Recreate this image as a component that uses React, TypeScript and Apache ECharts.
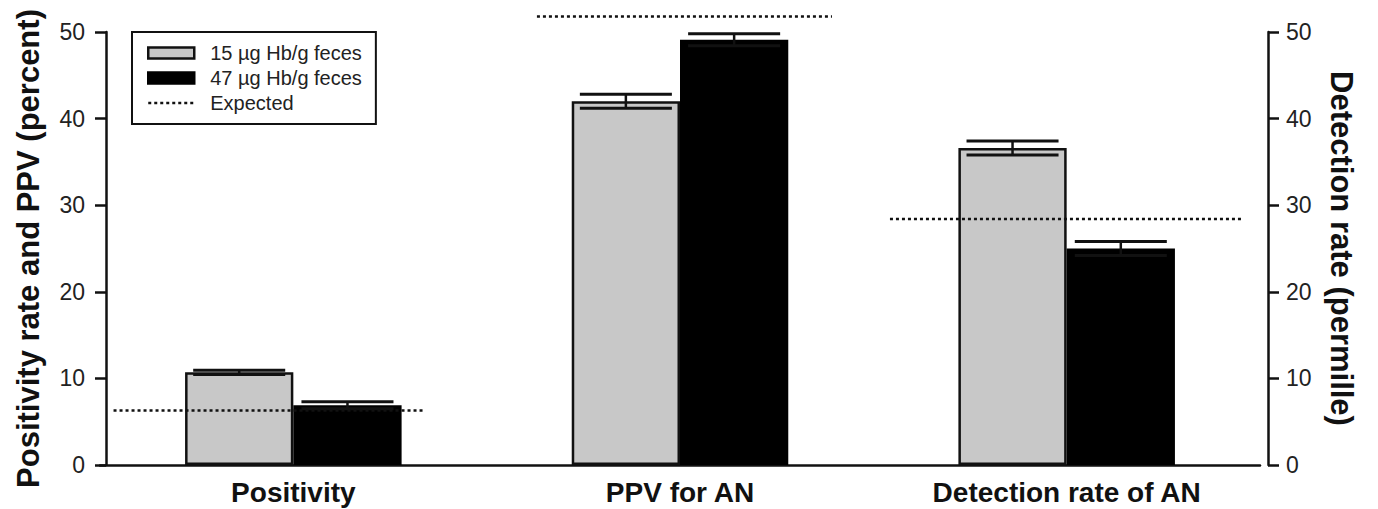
import React, { useEffect, useRef } from "react";
import * as echarts from "echarts";

const categories = ["Positivity", "PPV for AN", "Detection rate of AN"];
const lowName = "15 µg Hb/g feces";
const highName = "47 µg Hb/g feces";
const expectedName = "Expected";
const lowValues = [10.7, 42.0, 36.6];
const lowErrors = [0.25, 0.8, 0.8];
const highValues = [6.9, 49.1, 25.0];
const highErrors = [0.4, 0.7, 0.8];
const expectedValues = [6.3, 51.8, 28.4];
const yMin = 0;
const yMax = 50;
const yInterval = 10;

// layout constants (fractions of a category band)
const EXPECTED_SPAN = [
  [-0.465, 0.336],
  [-0.37, 0.393],
  [-0.457, 0.452],
];
const GAP_FRAC = 0.44;
const FONT = "'Liberation Sans', Arial, Helvetica, sans-serif";
const INK = "#111";

export default function App() {
  const ref = useRef<HTMLDivElement>(null);
  useEffect(() => {
    if (!ref.current) return;
    const chart = echarts.init(ref.current, undefined, { renderer: "svg" });

    const errorData: number[][] = [];
    categories.forEach((_, i) => {
      errorData.push([i, 0, lowValues[i], lowErrors[i]]);
      errorData.push([i, 1, highValues[i], highErrors[i]]);
    });
    const expectedData = categories.map((_, i) => [i, expectedValues[i]]);

    const yAxisBase = {
      type: "value",
      min: yMin,
      max: yMax,
      interval: yInterval,
      splitLine: { show: false },
      axisLine: { show: true, lineStyle: { color: INK, width: 2.5 } },
      axisTick: { show: true, inside: false, length: 11, lineStyle: { color: INK, width: 2.5 } },
      nameLocation: "middle",
      nameTextStyle: { fontFamily: FONT, fontSize: 31, fontWeight: "bold", color: INK },
    };

    chart.setOption({
      animation: false,
      backgroundColor: "#fff",
      grid: { left: 100, right: 118, top: 32, bottom: 44, containLabel: false },
      legend: {
        orient: "vertical",
        left: 132,
        top: 32,
        padding: [11, 14, 11, 15],
        itemGap: 5,
        itemWidth: 46,
        itemHeight: 11,
        borderColor: INK,
        borderWidth: 2,
        backgroundColor: "#fff",
        textStyle: { fontFamily: FONT, fontSize: 20, color: "#222", padding: [0, 0, 0, 11] },
        data: [
          { name: lowName, icon: "rect", itemStyle: { color: "#c8c8c8", borderColor: INK, borderWidth: 2.5 } },
          { name: highName, icon: "rect", itemStyle: { color: "#000", borderColor: "#000", borderWidth: 2.5 } },
          {
            name: expectedName,
            itemStyle: { color: "rgba(0,0,0,0)", borderColor: "rgba(0,0,0,0)", borderWidth: 0, opacity: 0 },
            lineStyle: { color: INK, width: 2.5, type: [3, 3] },
          },
        ],
      },
      xAxis: {
        type: "category",
        data: categories,
        axisLine: { show: true, lineStyle: { color: INK, width: 2.5 } },
        axisTick: { show: false },
        axisLabel: { fontFamily: FONT, fontSize: 28, fontWeight: "bold", color: INK, margin: 13 },
      },
      yAxis: [
        {
          ...yAxisBase,
          position: "left",
          offset: -6,
          name: "Positivity rate and PPV (percent)",
          nameGap: 62,
          nameRotate: 90,
          axisLabel: { fontFamily: FONT, fontSize: 23, color: "#222", margin: 21 },
        },
        {
          ...yAxisBase,
          position: "right",
          offset: 8,
          name: "Detection rate (permille)",
          nameGap: 58,
          nameRotate: -90,
          axisLabel: { fontFamily: FONT, fontSize: 23, color: "#222", margin: 18 },
        },
      ],
      series: [
        {
          name: lowName,
          type: "bar",
          data: lowValues,
          barGap: "0%",
          barCategoryGap: GAP_FRAC * 100 + "%",
          itemStyle: { color: "#c8c8c8", borderColor: INK, borderWidth: 2.5 },
          z: 2,
        },
        {
          name: highName,
          type: "bar",
          data: highValues,
          barGap: "0%",
          barCategoryGap: GAP_FRAC * 100 + "%",
          itemStyle: { color: "#000", borderColor: "#000", borderWidth: 2 },
          z: 2,
        },
        {
          name: "errors",
          type: "custom",
          data: errorData,
          encode: { x: 0, y: 2 },
          z: 5,
          silent: true,
          renderItem: (params: any, api: any) => {
            const cat = api.value(0);
            const s = api.value(1);
            const v = api.value(2);
            const e = api.value(3);
            const band = api.size([1, 0])[0];
            const bw = (band * (1 - GAP_FRAC)) / 2;
            const cx = api.coord([cat, 0])[0] + (s === 0 ? -bw / 2 : bw / 2);
            const yTop = api.coord([cat, v + e])[1];
            const yBot = api.coord([cat, v - e])[1];
            const hw = bw * 0.425;
            const st = { stroke: INK, lineWidth: 3 };
            return {
              type: "group",
              children: [
                { type: "line", shape: { x1: cx, y1: yTop, x2: cx, y2: yBot }, style: { stroke: INK, lineWidth: 2.5 } },
                { type: "line", shape: { x1: cx - hw, y1: yTop, x2: cx + hw, y2: yTop }, style: st },
                { type: "line", shape: { x1: cx - hw, y1: yBot, x2: cx + hw, y2: yBot }, style: st },
              ],
            };
          },
        },
        {
          name: "expectedLines",
          type: "custom",
          data: expectedData,
          encode: { x: 0, y: 1 },
          z: 6,
          clip: false,
          silent: true,
          renderItem: (params: any, api: any) => {
            const cat = api.value(0);
            const v = api.value(1);
            const band = api.size([1, 0])[0];
            const p = api.coord([cat, v]);
            const span = EXPECTED_SPAN[params.dataIndex];
            return {
              type: "line",
              shape: { x1: p[0] + span[0] * band, y1: p[1], x2: p[0] + span[1] * band, y2: p[1] },
              style: { stroke: INK, lineWidth: 2.5, lineDash: [3, 3] },
            };
          },
        },
        {
          name: expectedName,
          type: "line",
          data: [],
          symbol: "none",
          lineStyle: { color: INK, width: 2.5, type: [3, 3] },
          itemStyle: { color: "rgba(0,0,0,0)" },
        },
      ],
    });
    return () => chart.dispose();
  }, []);
  return (
    <div
      ref={ref}
      style={{ position: "absolute", left: 0, top: 0, width: 1378, height: 509, background: "#fff" }}
    />
  );
}
